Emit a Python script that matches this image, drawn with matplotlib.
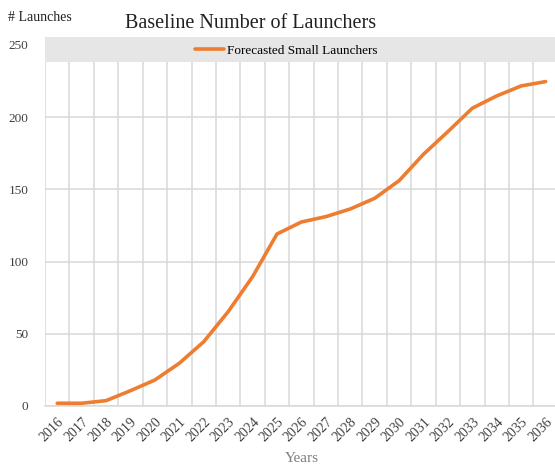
import matplotlib
matplotlib.use("Agg")
import matplotlib.pyplot as plt
from matplotlib.patches import Rectangle

years = [str(y) for y in range(2016, 2037)]
launches = [1.9, 1.9, 3.7, 10.6, 18, 29.6, 44.5, 65.3, 89.5, 119.1, 127.4,
            131.1, 136.4, 143.8, 156, 174.3, 190, 206.2, 214.7, 221.6, 224.6]

plt.rcParams['font.family'] = ['Liberation Serif', 'DejaVu Serif']

fig = plt.figure(figsize=(5.55, 4.68), dpi=100)
ax = fig.add_axes([0.0811, 0.1325, 0.924, 0.7885])

xs = [i + 0.5 for i in range(len(years))]
ax.plot(xs, launches, color='#ED7D31', linewidth=2.6, solid_capstyle='round',
        label='Forecasted Small Launchers', zorder=3)

ax.set_xlim(0, len(years))
ax.set_ylim(0, 255.5)
ax.set_yticks([0, 50, 100, 150, 200, 250])
ax.set_xticks(range(len(years) + 1), minor=False)
ax.set_xticklabels([])
ax.set_xticks(xs, minor=True)
ax.set_xticklabels(years, minor=True, rotation=45, ha='right',
                   rotation_mode='anchor', fontsize=10, color='#404040')
ax.tick_params(axis='x', which='both', length=0, pad=7)
ax.tick_params(axis='y', length=0, pad=12, labelsize=9.5, labelcolor='#404040')

ax.grid(True, which='major', color='#d9d9d9', linewidth=1.1)
ax.set_axisbelow(True)
for s in ['top', 'right', 'left']:
    ax.spines[s].set_visible(False)
ax.spines['bottom'].set_color('#d9d9d9')
ax.spines['bottom'].set_linewidth(1.1)

# legend band
ax.add_patch(Rectangle((0, 0.933), 1.0, 0.067, transform=ax.transAxes,
                       facecolor='#e6e6e6', edgecolor='none', zorder=2))
ax.legend(loc='center', bbox_to_anchor=(0.47, 0.962), frameon=False,
          fontsize=9.5, handlelength=2.2, handletextpad=0.2)

ax.set_xlabel('Years', fontsize=11, color='#7f7f7f', labelpad=5)
fig.text(0.014, 0.955, '# Launches', fontsize=10, color='#202020')
fig.text(0.452, 0.94, 'Baseline Number of Launchers', fontsize=14.5,
         ha='center', color='#202020')

fig.savefig('out.png', dpi=100)
